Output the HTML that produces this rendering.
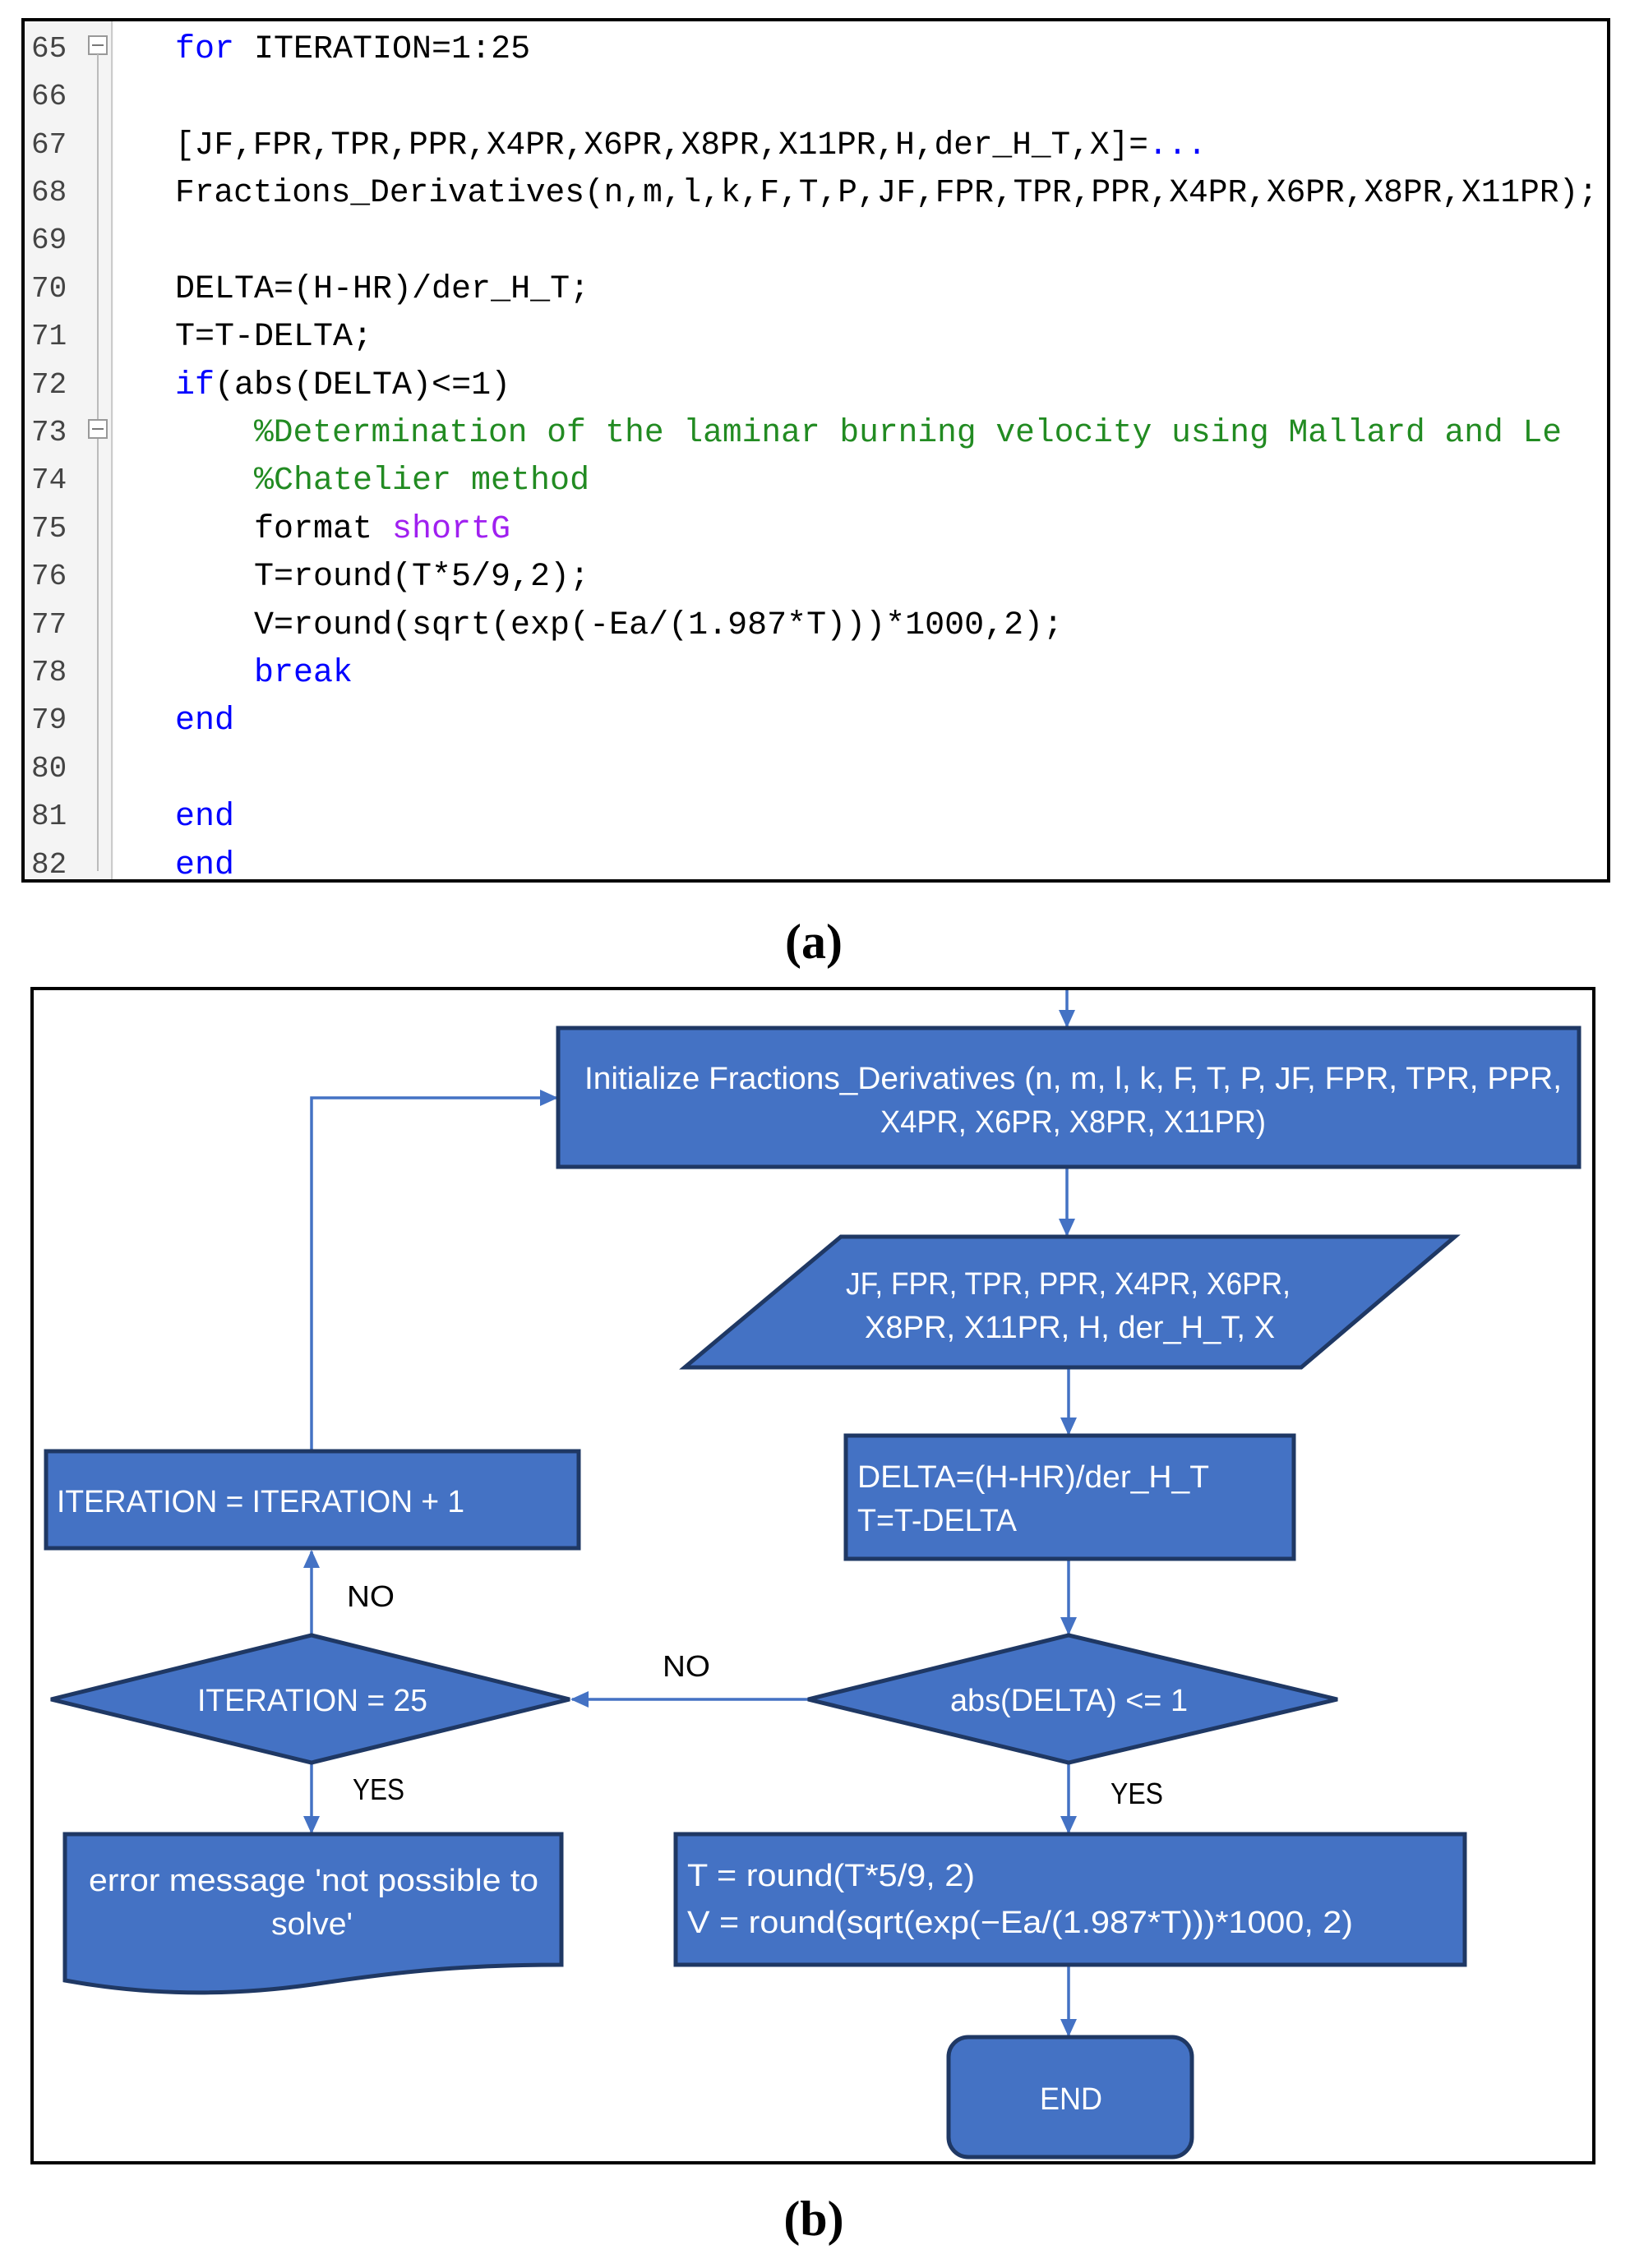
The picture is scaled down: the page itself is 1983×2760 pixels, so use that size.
<!DOCTYPE html>
<html><head><meta charset="utf-8"><style>
html,body{margin:0;padding:0;background:#fff;}
svg{display:block;}
.c{font-family:"Liberation Mono",monospace;font-size:40px;}
.n{font-family:"Liberation Mono",monospace;font-size:36px;fill:#444;}
.t{font-family:"Liberation Sans Narrow","Liberation Sans",sans-serif;font-size:38px;fill:#fff;}
.l{font-family:"Liberation Sans Narrow","Liberation Sans",sans-serif;font-size:36px;fill:#000;}
.sh{fill:#4472C4;stroke:#1F3864;stroke-width:5;}
.ln{stroke:#4472C4;stroke-width:3.5;fill:none;}
</style></head><body>
<svg width="1983" height="2760" viewBox="0 0 1983 2760" xmlns="http://www.w3.org/2000/svg">
<defs>
<marker id="b" markerWidth="22" markerHeight="20" refX="20" refY="10" orient="auto" markerUnits="userSpaceOnUse"><path d="M0,0 L22,10 L0,20 z" fill="#4472C4"/></marker></defs>
<rect width="1983" height="2760" fill="#fff"/>
<rect x="28" y="24" width="1929" height="1048" fill="#fff" stroke="#000" stroke-width="4"/>
<rect x="30" y="26" width="108" height="1044" fill="#f4f4f4"/>
<line x1="136" y1="26" x2="136" y2="1070" stroke="#ccc" stroke-width="2"/>
<rect x="108" y="44" width="22" height="22" fill="#fff" stroke="#999" stroke-width="2"/><line x1="112" y1="55" x2="126" y2="55" stroke="#777" stroke-width="2"/>
<line x1="119" y1="66" x2="119" y2="1060" stroke="#bbb" stroke-width="2"/>
<rect x="108" y="511" width="22" height="22" fill="#fff" stroke="#999" stroke-width="2"/><line x1="112" y1="522" x2="126" y2="522" stroke="#777" stroke-width="2"/>
<g class="n">
<text x="38" y="69">65</text><text x="38" y="127">66</text><text x="38" y="186">67</text><text x="38" y="244">68</text><text x="38" y="302">69</text><text x="38" y="361">70</text><text x="38" y="419">71</text><text x="38" y="478">72</text><text x="38" y="536">73</text><text x="38" y="594">74</text><text x="38" y="653">75</text><text x="38" y="711">76</text><text x="38" y="770">77</text><text x="38" y="828">78</text><text x="38" y="886">79</text><text x="38" y="945">80</text><text x="38" y="1003">81</text><text x="38" y="1062">82</text>
</g>
<g class="c">
<text x="213" y="70"><tspan fill="#0000FF">for</tspan> ITERATION=1:25</text>
<text x="213" y="187" textLength="1255" lengthAdjust="spacingAndGlyphs">[JF,FPR,TPR,PPR,X4PR,X6PR,X8PR,X11PR,H,der_H_T,X]=<tspan fill="#0000FF">...</tspan></text>
<text x="213" y="245" textLength="1731" lengthAdjust="spacingAndGlyphs">Fractions_Derivatives(n,m,l,k,F,T,P,JF,FPR,TPR,PPR,X4PR,X6PR,X8PR,X11PR);</text>
<text x="213" y="362">DELTA=(H-HR)/der_H_T;</text>
<text x="213" y="420">T=T-DELTA;</text>
<text x="213" y="479"><tspan fill="#0000FF">if</tspan>(abs(DELTA)&lt;=1)</text>
<text x="309" y="537" fill="#228B22" textLength="1591" lengthAdjust="spacingAndGlyphs">%Determination of the laminar burning velocity using Mallard and Le</text>
<text x="309" y="595" fill="#228B22">%Chatelier method</text>
<text x="309" y="654">format <tspan fill="#A020F0">shortG</tspan></text>
<text x="309" y="712">T=round(T*5/9,2);</text>
<text x="309" y="771">V=round(sqrt(exp(-Ea/(1.987*T)))*1000,2);</text>
<text x="309" y="829" fill="#0000FF">break</text>
<text x="213" y="887" fill="#0000FF">end</text>
<text x="213" y="1004" fill="#0000FF">end</text>
<text x="213" y="1063" fill="#0000FF">end</text>
</g>
<text x="990" y="1166" text-anchor="middle" font-family="Liberation Serif,serif" font-weight="bold" font-size="60">(a)</text>
<rect x="39" y="1203" width="1900" height="1429" fill="#fff" stroke="#000" stroke-width="4"/>
<g class="ln">
<line x1="1298" y1="1205" x2="1298" y2="1249" marker-end="url(#b)"/>
<line x1="1298" y1="1422" x2="1298" y2="1503" marker-end="url(#b)"/>
<line x1="1300" y1="1666" x2="1300" y2="1745" marker-end="url(#b)"/>
<line x1="1300" y1="1899" x2="1300" y2="1988" marker-end="url(#b)"/>
<line x1="983" y1="2068" x2="696" y2="2068" marker-end="url(#b)"/>
<line x1="379" y1="1990" x2="379" y2="1888" marker-end="url(#b)"/>
<polyline points="379,1766 379,1336 677,1336" marker-end="url(#b)"/>
<line x1="379" y1="2147" x2="379" y2="2230" marker-end="url(#b)"/>
<line x1="1300" y1="2147" x2="1300" y2="2230" marker-end="url(#b)"/>
<line x1="1300" y1="2393" x2="1300" y2="2477" marker-end="url(#b)"/>
</g>
<rect class="sh" x="679" y="1251" width="1242" height="169"/>
<polygon class="sh" points="1023,1505 1770,1505 1583,1664 833,1664"/>
<rect class="sh" x="1029" y="1747" width="545" height="150"/>
<polygon class="sh" points="983,2068 1300,1990 1627,2068 1300,2145"/>
<polygon class="sh" points="62,2068 379,1990 693,2068 379,2145"/>
<rect class="sh" x="56" y="1766" width="648" height="118"/>
<path class="sh" d="M79,2232 L683,2232 L683,2391 C560,2391 480,2400 380,2415 C260,2432 160,2425 79,2410 Z"/>
<rect class="sh" x="822" y="2232" width="960" height="159"/>
<rect class="sh" x="1154" y="2479" width="296" height="146" rx="24"/>
<g class="t">
<text x="711" y="1325" textLength="1189" lengthAdjust="spacingAndGlyphs">Initialize Fractions_Derivatives (n, m, l, k, F, T, P, JF, FPR, TPR, PPR,</text>
<text x="1071" y="1378" textLength="469" lengthAdjust="spacingAndGlyphs">X4PR, X6PR, X8PR, X11PR)</text>
<text x="1029" y="1575" textLength="541" lengthAdjust="spacingAndGlyphs">JF, FPR, TPR, PPR, X4PR, X6PR,</text>
<text x="1052" y="1628" textLength="499" lengthAdjust="spacingAndGlyphs">X8PR, X11PR, H, der_H_T, X</text>
<text x="1043" y="1810" textLength="428" lengthAdjust="spacingAndGlyphs">DELTA=(H-HR)/der_H_T</text>
<text x="1043" y="1863" textLength="194" lengthAdjust="spacingAndGlyphs">T=T-DELTA</text>
<text x="1156" y="2082" textLength="289" lengthAdjust="spacingAndGlyphs">abs(DELTA) &lt;= 1</text>
<text x="240" y="2082" textLength="280" lengthAdjust="spacingAndGlyphs">ITERATION = 25</text>
<text x="69" y="1840" textLength="496" lengthAdjust="spacingAndGlyphs">ITERATION = ITERATION + 1</text>
<text x="108" y="2301" textLength="547" lengthAdjust="spacingAndGlyphs">error message 'not possible to</text>
<text x="330" y="2354" textLength="99" lengthAdjust="spacingAndGlyphs">solve'</text>
<text x="836" y="2295" textLength="350" lengthAdjust="spacingAndGlyphs">T = round(T*5/9, 2)</text>
<text x="836" y="2352" textLength="810" lengthAdjust="spacingAndGlyphs">V = round(sqrt(exp(−Ea/(1.987*T)))*1000, 2)</text>
<text x="1265" y="2567" textLength="76" lengthAdjust="spacingAndGlyphs">END</text>
</g>
<g class="l">
<text x="422" y="1955" textLength="58" lengthAdjust="spacingAndGlyphs">NO</text>
<text x="806" y="2040" textLength="58" lengthAdjust="spacingAndGlyphs">NO</text>
<text x="429" y="2190" textLength="63" lengthAdjust="spacingAndGlyphs">YES</text>
<text x="1351" y="2195" textLength="64" lengthAdjust="spacingAndGlyphs">YES</text>
</g>
<text x="990" y="2720" text-anchor="middle" font-family="Liberation Serif,serif" font-weight="bold" font-size="60">(b)</text>
</svg>
</body></html>
